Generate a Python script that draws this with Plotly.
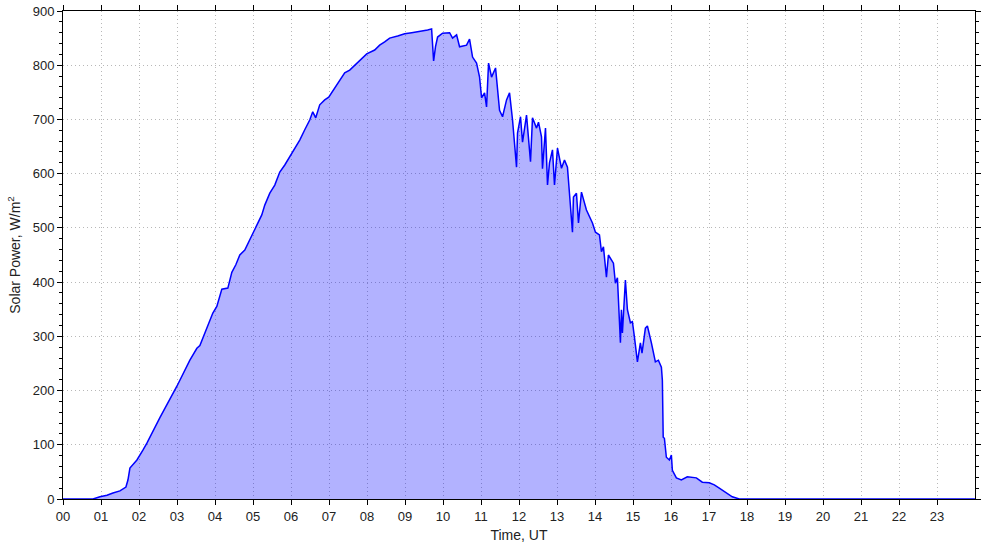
import plotly.graph_objects as go

hours = [0.0, 0.789, 0.973, 1.157, 1.314, 1.498, 1.656, 1.709, 1.761, 1.840, 1.945, 2.103, 2.208,
         2.550, 2.997, 3.339, 3.523, 3.602, 3.733, 3.943, 4.048, 4.180, 4.338, 4.443, 4.548, 4.653,
         4.784, 4.916, 4.995, 5.126, 5.231, 5.310, 5.442, 5.573, 5.705, 5.836, 5.994, 6.125, 6.230,
         6.362, 6.493, 6.572, 6.651, 6.756, 6.887, 6.993, 7.150, 7.282, 7.413, 7.545, 7.676, 7.808,
         7.992, 8.202, 8.333, 8.465, 8.596, 8.807, 8.991, 9.175, 9.385, 9.595, 9.700, 9.753, 9.805,
         9.858, 9.989, 10.174, 10.252, 10.358, 10.436, 10.620, 10.699, 10.778, 10.883, 10.962,
         11.015, 11.094, 11.146, 11.199, 11.278, 11.383, 11.488, 11.567, 11.672, 11.751, 11.830,
         11.935, 11.961, 12.040, 12.093, 12.198, 12.303, 12.355, 12.461, 12.513, 12.592, 12.618,
         12.697, 12.750, 12.802, 12.881, 12.934, 13.013, 13.118, 13.197, 13.275, 13.328, 13.407,
         13.433, 13.512, 13.565, 13.644, 13.775, 13.933, 14.012, 14.117, 14.170, 14.222, 14.301,
         14.353, 14.485, 14.537, 14.590, 14.669, 14.695, 14.721, 14.800, 14.853, 14.932, 14.984,
         15.037, 15.116, 15.195, 15.237, 15.326, 15.379, 15.484, 15.589, 15.668, 15.747, 15.773,
         15.795, 15.826, 15.878, 15.957, 16.010, 16.036, 16.141, 16.272, 16.430, 16.667, 16.824,
         17.008, 17.140, 17.271, 17.455, 17.613, 17.797, 24.0]

solar_power = [0, 0, 4, 7, 11, 15, 22, 35, 57, 63, 72, 90, 103,
               150, 208, 256, 278, 283, 305, 343, 355, 387, 389, 418, 432, 450,
               459, 478, 492, 511, 524, 542, 564, 579, 603, 616, 634, 649, 662,
               681, 699, 714, 703, 727, 736, 741, 758, 773, 786, 791, 800, 810,
               821, 828, 837, 843, 850, 854, 858, 860, 862, 865, 867, 808, 835,
               852, 859, 860, 850, 856, 834, 837, 848, 815, 804, 778,
               740, 749, 723, 804, 778, 795, 717, 705, 736, 749, 699,
               612, 675, 705, 658, 708, 622, 703, 684, 695, 668, 609,
               684, 579, 620, 644, 579, 647, 610, 625, 612, 557, 492,
               557, 564, 509, 566, 533, 509, 492, 487, 456, 465, 409,
               450, 435, 398, 408, 288, 349, 306, 404, 349, 325, 327,
               299, 253, 288, 269, 315, 319, 288, 253, 256, 243, 219,
               114, 112, 77, 72, 81, 53, 39, 35, 41, 39, 31,
               30, 26, 20, 11, 4, 0, 0]

tick_vals = list(range(24))
tick_text = [f"{h:02d}" for h in tick_vals]
y_ticks = list(range(0, 1000, 100))

fig = go.Figure()
fig.add_trace(go.Scatter(
    x=hours, y=solar_power, mode="lines",
    line=dict(color="#0000ff", width=1.5),
    fill="tozeroy", fillcolor="rgba(0,0,255,0.3)",
    hoverinfo="skip", showlegend=False,
))

font = dict(family="Liberation Sans, Arial, sans-serif", size=13, color="#222222")
title_font = dict(family="Liberation Sans, Arial, sans-serif", size=14, color="#222222")

fig.update_layout(
    width=985, height=547,
    margin=dict(l=63, r=10, t=11, b=48),
    paper_bgcolor="white", plot_bgcolor="white",
    font=font,
    xaxis=dict(
        range=[0, 24], tickvals=tick_vals, ticktext=tick_text,
        showline=True, linecolor="black", linewidth=1, mirror="ticks",
        ticks="outside", ticklen=5, tickcolor="black", tickwidth=1,
        showgrid=True, gridcolor="#b8b8b8", griddash="1px,3px", gridwidth=1,
        zeroline=False, automargin=False,
        title=dict(text="Time, UT", standoff=7, font=title_font),
    ),
    yaxis=dict(
        range=[0, 900], tickvals=y_ticks,
        showline=True, linecolor="black", linewidth=1, mirror="ticks",
        ticks="outside", ticklen=5, tickcolor="black", tickwidth=1,
        minor=dict(dtick=20, ticks="outside", ticklen=3, tickcolor="black", showgrid=False),
        showgrid=True, gridcolor="#b8b8b8", griddash="1px,3px", gridwidth=1,
        zeroline=False, automargin=False,
        title=dict(text="Solar Power, W/m<sup>2</sup>", standoff=8, font=title_font),
    ),
)

fig.write_html("out.html", config={"displayModeBar": False},
               post_script="document.body.style.margin='0';")
